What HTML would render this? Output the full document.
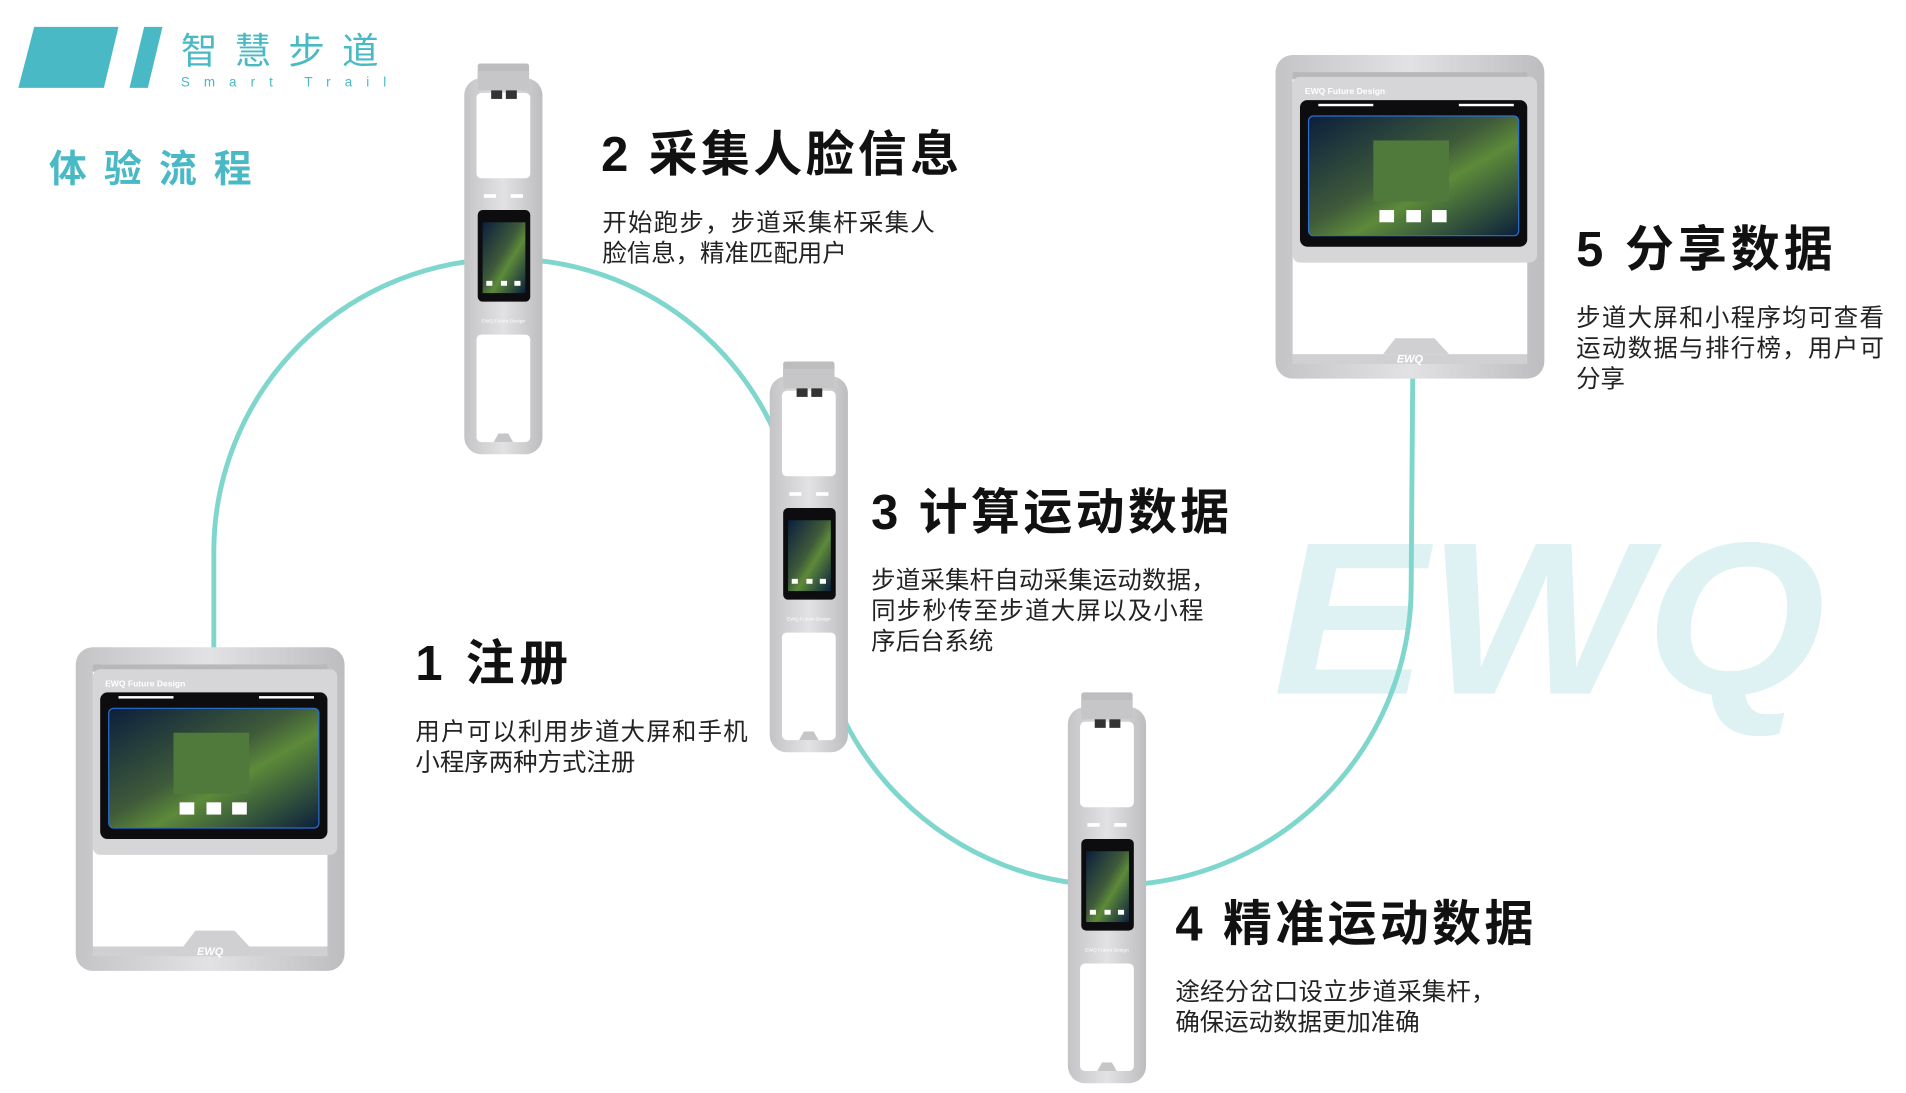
<!DOCTYPE html>
<html><head><meta charset="utf-8"><style>
html,body{margin:0;padding:0;background:#fff;width:1906px;height:1093px;overflow:hidden}
svg{display:block}
text{font-family:"Liberation Sans","Noto Sans CJK SC",sans-serif}
</style></head><body>
<svg width="1906" height="1093" viewBox="0 0 1560 895" preserveAspectRatio="none" xmlns="http://www.w3.org/2000/svg">
<defs>
<linearGradient id="scr" x1="0" y1="0" x2="1" y2="1">
<stop offset="0" stop-color="#0b1f3d"/><stop offset="0.45" stop-color="#3e5a3a"/><stop offset="0.6" stop-color="#5d8a3a"/><stop offset="1" stop-color="#0b1f3d"/></linearGradient>
<linearGradient id="frm" x1="0" y1="0" x2="1" y2="0">
<stop offset="0" stop-color="#c4c4c6"/><stop offset="0.5" stop-color="#e2e2e4"/><stop offset="1" stop-color="#bdbdc0"/></linearGradient>
<g id="kiosk">
<rect x="0" y="0" width="220" height="265" rx="14" fill="url(#frm)"/>
<rect x="14" y="14" width="192" height="236" rx="6" fill="#fff"/>
<rect x="14" y="14" width="192" height="6" fill="#b8b8ba"/>
<rect x="14" y="18" width="200" height="152" rx="6" fill="#d6d6d8"/>
<text x="24" y="32" font-size="7" fill="#fff" font-weight="bold">EWQ Future Design</text>
<rect x="20" y="37" width="186" height="120" rx="6" fill="#0d0d0f"/>
<rect x="27" y="50" width="172" height="98" rx="4" fill="url(#scr)"/>
<rect x="27" y="50" width="172" height="98" rx="4" fill="none" stroke="#2a6fd0" stroke-width="1"/>
<rect x="80" y="70" width="62" height="50" fill="#4f7a3c"/>
<rect x="85" y="127" width="12" height="10" fill="#fff"/><rect x="107" y="127" width="12" height="10" fill="#fff"/><rect x="128" y="127" width="12" height="10" fill="#fff"/>
<rect x="35" y="40" width="45" height="2" fill="#fff"/><rect x="150" y="40" width="45" height="2" fill="#fff"/>
<rect x="14" y="245" width="192" height="8" fill="#d0d0d2"/>
<polygon points="88,245 98,232 130,232 142,245" fill="#d0d0d2"/>
<text x="110" y="252" font-size="9" fill="#fff" font-weight="bold" font-style="italic" text-anchor="middle">EWQ</text>
</g>
<g id="pole">
<rect x="11" y="0" width="42" height="22" rx="2" fill="#bdbdbf"/>
<rect x="0" y="12" width="64" height="308" rx="14" fill="url(#frm)"/>
<rect x="10" y="24" width="44" height="70" rx="4" fill="#fff"/>
<rect x="11" y="6" width="42" height="16" fill="#c6c6c8"/>
<rect x="22" y="22" width="9" height="7" fill="#333"/><rect x="34" y="22" width="9" height="7" fill="#333"/>
<rect x="16" y="107" width="10" height="3" fill="#fff"/><rect x="38" y="107" width="10" height="3" fill="#fff"/>
<rect x="11" y="120" width="43" height="75" rx="4" fill="#0d0d0f"/>
<rect x="15" y="130" width="35" height="58" fill="url(#scr)"/>
<rect x="18" y="178" width="5" height="4" fill="#fff"/><rect x="30" y="178" width="5" height="4" fill="#fff"/><rect x="41" y="178" width="5" height="4" fill="#fff"/>
<text x="32" y="212" font-size="4" fill="#fff" text-anchor="middle">EWQ Future Design</text>
<rect x="10" y="222" width="44" height="88" rx="4" fill="#fff"/>
<polygon points="24,310 28,303 36,303 40,310" fill="#c6c6c8"/>
</g>
</defs>

<!-- watermark -->
<text x="1042" y="568" font-size="178" font-weight="bold" font-style="italic" fill="#def1f3" textLength="452" lengthAdjust="spacingAndGlyphs">EWQ</text>

<!-- path -->
<path d="M175,540 L175,452 A240,240 0 0 1 655,452 L665,480 A245,245 0 0 0 1155,480 L1157,210" fill="none" stroke="#7fd6cd" stroke-width="4"/>

<!-- logo -->
<polygon points="28,22 97,22 85,72 15,72" fill="#49b9c6"/>
<polygon points="118,22 133,22 121,72 106,72" fill="#49b9c6"/>
<text x="148" y="52" font-size="30" fill="#49b9c6" letter-spacing="14">智慧步道</text>
<text x="148" y="71" font-size="11" fill="#49b9c6" letter-spacing="11.5">Smart Trail</text>
<text x="40" y="149" font-size="31" fill="#49b9c6" letter-spacing="14" font-weight="bold">体验流程</text>

<!-- devices -->
<use href="#kiosk" transform="translate(62,530)"/>
<use href="#kiosk" transform="translate(1044,45)"/>
<use href="#pole" transform="translate(380,52)"/>
<use href="#pole" transform="translate(630,296)"/>
<use href="#pole" transform="translate(874,567)"/>

<!-- texts -->
<g font-weight="bold" font-size="40" fill="#111" style="white-space:pre">
<text x="492" y="140" textLength="293">2  采集人脸信息</text>
<text x="713" y="433" textLength="293">3  计算运动数据</text>
<text x="340" y="557" textLength="125">1  注册</text>
<text x="962" y="770" textLength="293">4  精准运动数据</text>
<text x="1290" y="218" textLength="210">5  分享数据</text>
</g>
<g font-size="20" fill="#222">
<text x="493" y="189" textLength="272">开始跑步，步道采集杆采集人</text>
<text x="493" y="214">脸信息，精准匹配用户</text>
<text x="713" y="482" textLength="282">步道采集杆自动采集运动数据，</text>
<text x="713" y="507" textLength="272">同步秒传至步道大屏以及小程</text>
<text x="713" y="532">序后台系统</text>
<text x="340" y="606" textLength="272">用户可以利用步道大屏和手机</text>
<text x="340" y="631">小程序两种方式注册</text>
<text x="962" y="819" textLength="262">途经分岔口设立步道采集杆，</text>
<text x="962" y="844">确保运动数据更加准确</text>
<text x="1290" y="267" textLength="252">步道大屏和小程序均可查看</text>
<text x="1290" y="292" textLength="252">运动数据与排行榜，用户可</text>
<text x="1290" y="317">分享</text>
</g>
</svg>
</body></html>
